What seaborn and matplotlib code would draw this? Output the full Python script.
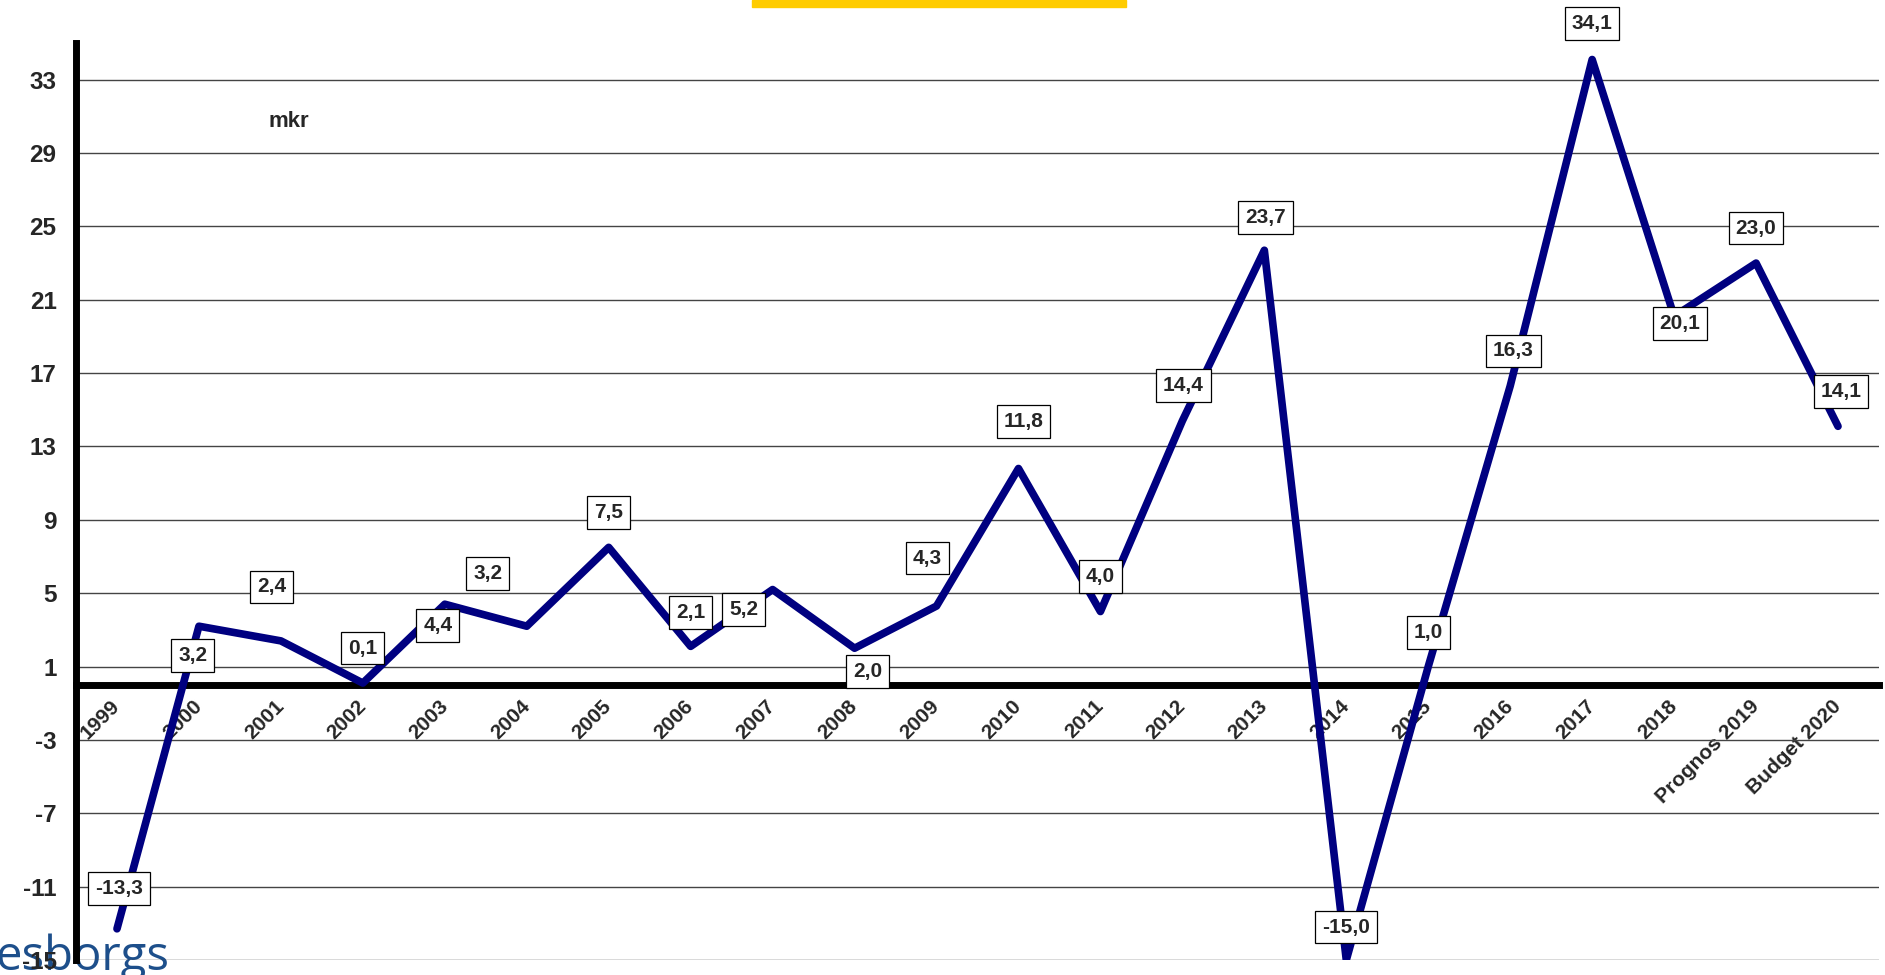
"""
Resultat (mkr) 1999 - Budget 2020, line chart with boxed value labels.
"""
import numpy as np
import pandas as pd
import matplotlib
matplotlib.use('Agg')
import matplotlib.pyplot as plt
from matplotlib.patches import Rectangle
import seaborn as sns

YEARS = ['1999', '2000', '2001', '2002', '2003', '2004', '2005', '2006',
         '2007', '2008', '2009', '2010', '2011', '2012', '2013', '2014',
         '2015', '2016', '2017', '2018', 'Prognos 2019', 'Budget 2020']
VALUES = [-13.3, 3.2, 2.4, 0.1, 4.4, 3.2, 7.5, 2.1, 5.2, 2.0, 4.3, 11.8,
          4.0, 14.4, 23.7, -15.0, 1.0, 16.3, 34.1, 20.1, 23.0, 14.1]

# label box offsets from each point, in pixels (x right, y up)
LABEL_OFFSETS = [(2, 40), (-6, -29), (-9, 54), (0, 35), (-7, -21), (-39, 53),
                 (0, 35), (0, 34), (-29, -20), (13, -23), (-9, 48), (5, 47),
                 (0, 35), (1, 35), (1, 33), (0, 33), (0, 34), (3, 35),
                 (0, 36), (6, -7), (0, 35), (3, 35)]

Y_TICKS = list(range(-15, 34, 4))

sns.set_style('white')
plt.rcParams['font.family'] = ['Liberation Sans', 'DejaVu Sans']

W, H = 1885, 975
fig = plt.figure(figsize=(W / 100, H / 100), dpi=100)
ax = fig.add_axes([76 / W, 1 - 960 / H, (1879 - 76) / W, (960 - 43) / H])
ax.patch.set_alpha(0)

df = pd.DataFrame({'year': YEARS, 'mkr': VALUES})
sns.lineplot(data=df, x='year', y='mkr', ax=ax, sort=False,
             color='#000080', lw=5.5, zorder=3)

ax.set_xlim(-0.5, len(YEARS) - 0.5)
ax.set_ylim(-15, 35)
ax.set_xlabel('')
ax.set_ylabel('')

# y axis
ax.set_yticks(Y_TICKS)
ax.set_yticklabels([str(t) for t in Y_TICKS], fontsize=17.5, fontweight='bold')
ax.yaxis.grid(True, color='#444444', lw=1)
ax.xaxis.grid(False)
ax.set_axisbelow(True)
ax.tick_params(axis='y', direction='out', length=5, width=3, color='black', pad=9)

# x axis sits on zero
for s in ['top', 'right']:
    ax.spines[s].set_visible(False)
ax.spines['left'].set_linewidth(5)
ax.spines['left'].set_color('black')
ax.spines['bottom'].set_position(('data', 0))
ax.spines['bottom'].set_linewidth(5)
ax.spines['bottom'].set_color('black')

ax.set_xticks(np.arange(len(YEARS)))
ax.set_xticks(np.arange(-0.5, len(YEARS)), minor=True)
ax.tick_params(axis='x', which='major', length=0, pad=13)
ax.tick_params(axis='x', which='minor', direction='out', length=5, width=3, color='black')
ax.set_xticklabels(YEARS, rotation=45, ha='right', va='center',
                   rotation_mode='anchor', fontsize=15, fontweight='bold')

# value labels
for i, (v, (dx, dy)) in enumerate(zip(VALUES, LABEL_OFFSETS)):
    ax.annotate(f'{v:.1f}'.replace('.', ','), (i, v), xytext=(dx, dy),
                textcoords='offset pixels', ha='center', va='center',
                fontsize=15, fontweight='bold', zorder=5,
                bbox=dict(boxstyle='square,pad=0.33', fc='white', ec='black', lw=0.9))

ax.text(268 / W, 1 - 127 / H, 'mkr', transform=fig.transFigure,
        fontsize=16, fontweight='bold', va='baseline', ha='left')

# yellow title box cut off at the top
fig.patches.append(Rectangle((752 / W, 1 - 7 / H), (1126 - 752) / W, 7 / H,
                             transform=fig.transFigure, color='#FFCC00', zorder=0))

# logo fragment bottom left
fig.text(-5 / W, 5 / H, 'esborgs', fontsize=34, color='#1d4f8b',
         family=['Open Sans', 'DejaVu Sans'], va='baseline', ha='left', zorder=-1)

fig.savefig('out.png', dpi=100)
